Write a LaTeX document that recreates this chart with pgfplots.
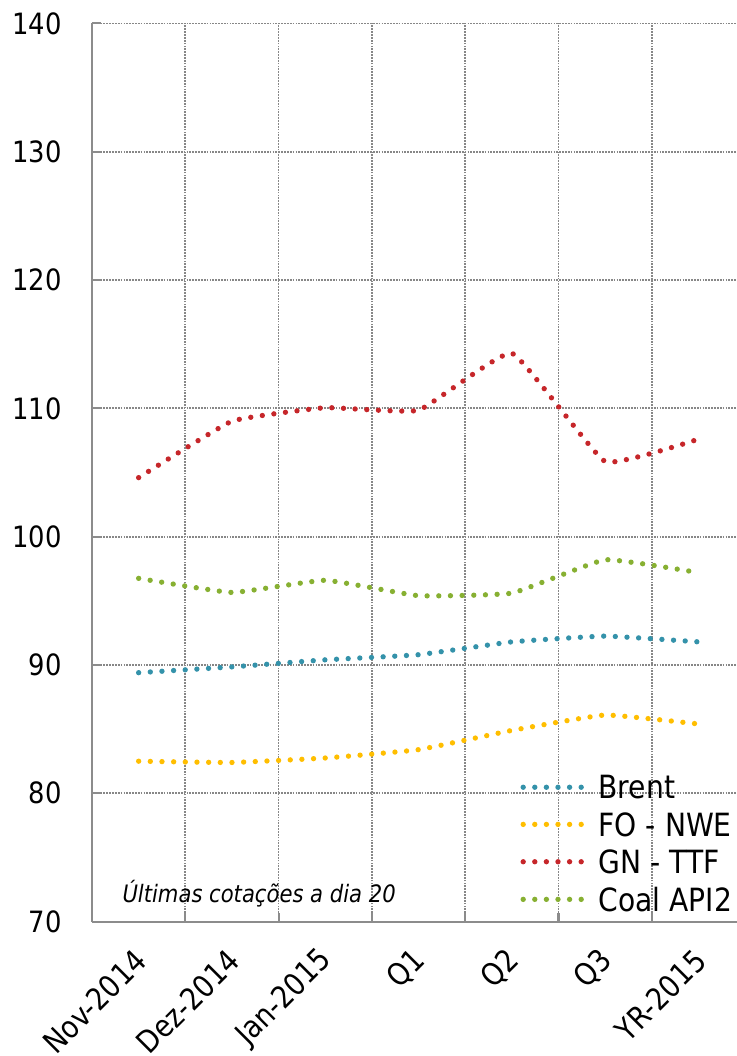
\documentclass[border=0pt]{standalone}
\usepackage{fontspec}
\setmainfont{DejaVu Sans}[FakeStretch=0.88]
\usepackage{pgfplots}
\pgfplotsset{compat=1.18}
\definecolor{cBrent}{RGB}{52,146,170}
\definecolor{cFO}{RGB}{255,190,0}
\definecolor{cGN}{RGB}{198,38,42}
\definecolor{cCoal}{RGB}{135,176,50}
\definecolor{axgray}{RGB}{140,140,140}
\definecolor{grgray}{RGB}{135,135,135}
\pgfplotsset{serie/.style={line width=4pt, line cap=round, dash pattern=on 0pt off 8.75pt, smooth, tension=0.2, mark=none}}
\begin{document}
\begin{tikzpicture}
\begin{axis}[name=ax, scale only axis, width=483.75pt, height=673.65pt,
  xmin=0, xmax=6.913, ymin=70, ymax=140,
  ytick={70,80,...,140},
  xtick={1,2,3,4,5,6}, xticklabels={},
  extra x ticks={0.5,1.5,2.5,3.5,4.5,5.5,6.5},
  extra x tick labels={Nov-2014,Dez-2014,Jan-2015,Q1,Q2,Q3,YR-2015},
  extra x tick style={grid=none, major tick length=0pt},
  axis x line=bottom, axis y line=left,
  axis line style={-, draw=axgray, line width=1.6pt},
  xmajorgrids, ymajorgrids,
  major grid style={grgray, line width=1.3pt, dash pattern=on 1.3pt off 0.85pt},
  tick align=inside, major tick length=6.75pt,
  tick style={axgray, line width=1.6pt},
  /pgf/number format/assume math mode=true,
  yticklabel style={font=\fontsize{22}{24}\selectfont, anchor=east, inner sep=0pt, xshift=-22.5pt},
  xticklabel style={font=\fontsize{23}{26}\selectfont, inner sep=0pt, xshift=1.5pt, yshift=-25.5pt, rotate=45, anchor=east},
  legend cell align=left,
  legend image code/.code={\draw[#1, dash pattern=on 0pt off 8.7pt] (0pt,0pt)--(43.6pt,0pt);},
  legend style={draw=none, fill=none, at={(axis cs:4.59,81.4)}, anchor=north west, inner sep=0pt,
    row sep=10.2pt, column sep=11pt, font=\fontsize{24}{27}\selectfont, nodes={inner sep=0pt, text depth=0pt}},
  clip=false,
]
\addplot[cBrent, serie] coordinates {(0.5,89.4) (1.5,89.85) (2.5,90.4) (3.5,90.8) (4.5,91.8) (5.5,92.25) (6.5,91.8)};
\addlegendentry{Brent}
\addplot[cFO, serie] coordinates {(0.5,82.5) (1.5,82.4) (2.5,82.75) (3.5,83.4) (4.5,84.9) (5.5,86.1) (6.5,85.4)};
\addlegendentry{FO - NWE}
\addplot[cGN, serie] coordinates {(0.5,104.6) (1.5,109.0) (2.5,110.05) (3.5,109.85) (4.5,114.3) (5.5,105.85) (6.5,107.6)};
\addlegendentry{GN - TTF}
\addplot[cCoal, serie] coordinates {(0.5,96.75) (1.5,95.65) (2.5,96.6) (3.5,95.4) (4.5,95.6) (5.5,98.2) (6.5,97.2)};
\addlegendentry{Coal API2}
\node[anchor=base west, font=\itshape\fontsize{18}{20}\selectfont] at (rel axis cs:0.0400,0.0218) {Últimas cotações a dia 20};
\end{axis}
\pgfresetboundingbox
\path[use as bounding box] ([shift={(-69pt,-100.8pt)}]ax.south west) rectangle ([shift={(0pt,17.55pt)}]ax.north east);
\end{tikzpicture}
\end{document}
